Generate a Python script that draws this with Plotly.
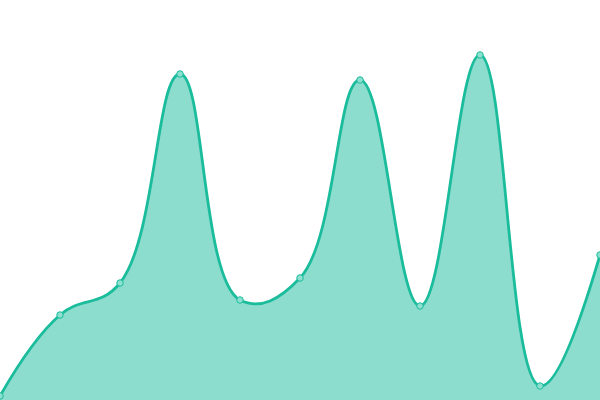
import plotly.graph_objects as go

x_vals = [0, 1, 2, 3, 4, 5, 6, 7, 8, 9, 10]
y_vals = [4, 85, 117, 326, 100, 122, 320, 94, 345, 14, 145]

fig = go.Figure()
fig.add_trace(go.Scatter(
    x=x_vals, y=y_vals,
    mode="lines+markers",
    line=dict(color="#1abc9c", width=2.8, shape="spline", smoothing=1.2),
    fill="tozeroy",
    fillcolor="rgba(26,188,156,0.5)",
    marker=dict(size=6.5, color="#8de0d0", line=dict(color="#1abc9c", width=1)),
    cliponaxis=False,
))
fig.update_layout(
    width=600, height=400,
    margin=dict(l=0, r=0, t=0, b=0),
    paper_bgcolor="white", plot_bgcolor="white",
    showlegend=False,
    xaxis=dict(range=[0, 10], visible=False, fixedrange=True),
    yaxis=dict(range=[0, 400], visible=False, fixedrange=True),
)
fig.write_html(
    "out.html",
    config={"displayModeBar": False},
    post_script="document.body.style.margin='0';document.body.style.overflow='hidden';",
)
